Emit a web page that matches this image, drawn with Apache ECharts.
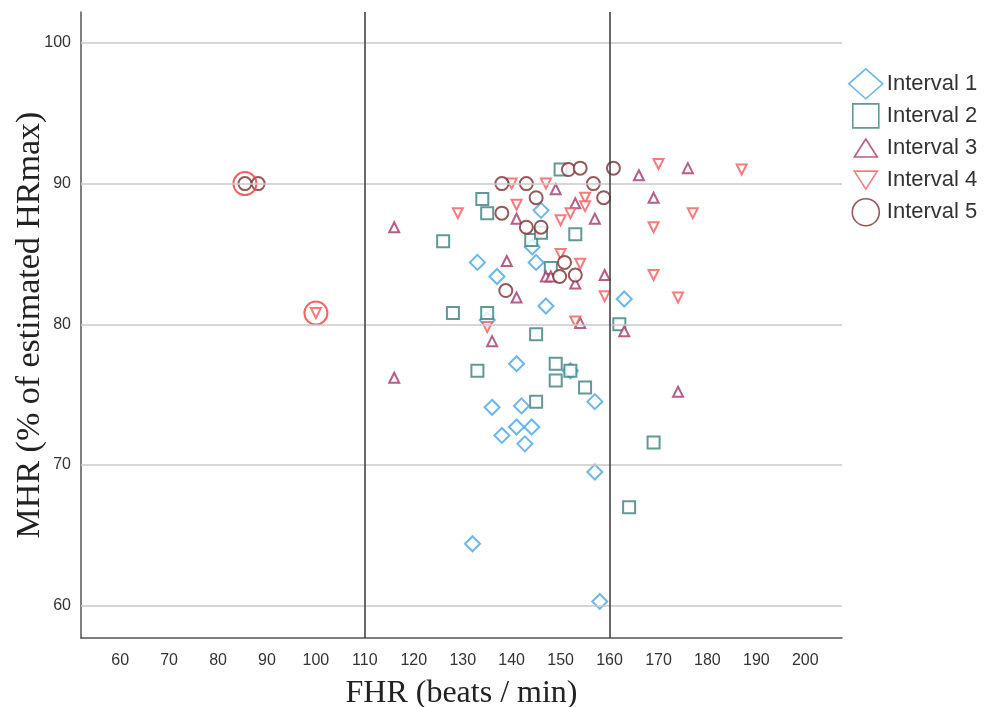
<!DOCTYPE html>
<html>
<head>
<meta charset="utf-8">
<script src="https://cdn.jsdelivr.net/npm/echarts@6/dist/echarts.min.js"></script>
<style>
  html, body { margin: 0; padding: 0; background: #fff; }
  #main { width: 984px; height: 707px; }
</style>
</head>
<body>
<div id="main"></div>
<script>
// [FHR, MHR] pairs
const interval1 = [
  [146, 88.1], [133, 84.4], [137, 83.4], [144.2, 85.5], [145, 84.4],
  [147, 81.3], [135, 80.3], [141, 77.2], [136, 74.1], [142, 74.2],
  [141, 72.7], [144.1, 72.7], [138, 72.1], [142.7, 71.5], [163, 81.8],
  [157, 74.5], [152, 76.7], [157, 69.5], [132, 64.4], [158, 60.3]
];
const interval2 = [
  [150, 91.0], [134, 88.9], [135, 87.9], [126, 85.9], [144, 86.0],
  [146, 86.5], [153, 86.4], [148, 84.0], [128, 80.8], [135, 80.8],
  [145, 79.3], [133, 76.7], [149, 77.2], [149, 76.0], [145, 74.5],
  [162, 80.0], [155, 75.5], [169, 71.6], [164, 67.0], [152, 76.7]
];
const interval3 = [
  [116, 86.9], [149, 89.6], [153, 88.6], [141, 87.5], [139, 84.5],
  [147, 83.4], [148, 83.4], [153, 82.9], [141, 81.9], [157, 87.5],
  [166, 90.6], [176, 91.1], [169, 89.0], [159, 83.5], [136, 78.8],
  [116, 76.2], [154, 80.1], [163, 79.5], [174, 75.2]
];
const interval4 = [
  [140, 90.0], [147, 90.0], [129, 87.9], [141, 88.5], [150, 87.4],
  [152, 87.9], [150, 85.0], [155, 89.0], [155, 88.4], [170, 91.4],
  [187, 91.0], [177, 87.9], [169, 86.9], [154, 84.3], [169, 83.5],
  [159, 82.0], [174, 81.9], [135, 79.8], [153, 80.2], [100, 80.8]
];
const interval5 = [
  [85.5, 90.0], [88.2, 90.0], [138, 90.0], [143, 90.0], [145, 89.0],
  [138, 87.9], [143, 86.9], [146, 86.9], [151.6, 91.0], [154, 91.1],
  [138.8, 82.4], [150.8, 84.4], [149.8, 83.4], [153, 83.5], [160.8, 91.1],
  [156.7, 90.0], [158.8, 89.0]
];
// outliers circled in red
const highlighted = [[85.5, 90.0], [100, 80.8]];

const xTicks = [60, 70, 80, 90, 100, 110, 120, 130, 140, 150, 160, 170, 180, 190, 200];
const yTicks = [60, 70, 80, 90, 100];
const cutoffs = [110, 160];

const colors = ['#45a5ea', '#3a7f7c', '#a4356c', '#f25a5c', '#7b2f31'];

// legend icons share one 34x30 frame so their sizes differ like the original
const frame = 'path://M0,0M34,30';
const legendIcons = [
  frame + 'M17,0L34,15L17,30L0,15Z',
  frame + 'M4,3L30,3L30,27L4,27Z',
  frame + 'M17,6L28.5,24L5.5,24Z',
  frame + 'M5.5,6L28.5,6L17,24Z',
  frame + 'M3.5,15A13.5,13.5 0 1 1 30.5,15A13.5,13.5 0 1 1 3.5,15Z'
];

const chart = echarts.init(document.getElementById('main'));

const labelFont = { fontFamily: 'Liberation Sans', fontSize: 16, color: '#333' };
const titleFont = { fontFamily: 'Liberation Serif', fontSize: 32, color: '#222' };

function intervalSeries(name, data, symbol, size, color, rotate) {
  return {
    name: name,
    type: 'scatter',
    data: data,
    symbol: symbol,
    symbolSize: size,
    symbolRotate: rotate || 0,
    z: 3,
    itemStyle: { color: color, borderWidth: 1.6 }
  };
}

function legendItem(i) {
  return {
    name: 'Interval ' + (i + 1),
    icon: legendIcons[i],
    itemStyle: { color: '#fff', borderColor: colors[i], borderWidth: 1.6 }
  };
}

const option = {
  animation: false,
  backgroundColor: '#fff',
  grid: { left: 81, right: 142, top: 12, bottom: 69, containLabel: false, outerBoundsMode: 'none' },
  legend: {
    data: [0, 1, 2, 3, 4].map(legendItem),
    orient: 'vertical',
    left: 848,
    top: 68,
    padding: 0,
    itemWidth: 34,
    itemHeight: 30,
    itemGap: 0.5,
    textStyle: { fontFamily: 'Liberation Sans', fontSize: 22, color: '#333', padding: [0, 0, 0, -1] }
  },
  xAxis: {
    type: 'value',
    min: 52,
    max: 207.5,
    name: 'FHR (beats / min)',
    nameLocation: 'middle',
    nameGap: 40,
    nameTextStyle: titleFont,
    axisLine: { lineStyle: { color: '#555', width: 1.5 } },
    axisTick: { show: false },
    splitLine: { show: false },
    axisLabel: Object.assign({ customValues: xTicks, margin: 15 }, labelFont)
  },
  yAxis: {
    type: 'value',
    min: 57.7,
    max: 102.2,
    name: 'MHR (% of estimated HRmax)',
    nameLocation: 'middle',
    nameGap: 34,
    nameMoveOverlap: false,
    nameTextStyle: Object.assign({}, titleFont, { fontSize: 34 }),
    axisLine: { show: true, lineStyle: { color: '#555', width: 1.5 } },
    axisTick: { show: false },
    splitLine: { show: false },
    axisLabel: Object.assign({ customValues: yTicks, margin: 10 }, labelFont)
  },
  series: [
    {
      type: 'scatter',
      data: [],
      z: 1,
      silent: true,
      markLine: {
        silent: true,
        symbol: ['none', 'none'],
        label: { show: false },
        animation: false,
        data: yTicks.map(v => ({ yAxis: v, lineStyle: { color: '#c9c9c9', width: 1.6, type: 'solid' } }))
          .concat(cutoffs.map(v => ({ xAxis: v, lineStyle: { color: '#444', width: 1.6, type: 'solid' } })))
      }
    },
    intervalSeries('Interval 1', interval1, 'emptyDiamond', 15, colors[0]),
    intervalSeries('Interval 2', interval2, 'emptyRect', 12, colors[1]),
    intervalSeries('Interval 3', interval3, 'emptyTriangle', 10, colors[2]),
    intervalSeries('Interval 4', interval4, 'emptyTriangle', 10, colors[3], 180),
    intervalSeries('Interval 5', interval5, 'emptyCircle', 13, colors[4]),
    {
      name: 'highlight',
      type: 'scatter',
      data: highlighted,
      symbol: 'circle',
      symbolSize: 23,
      z: 4,
      silent: true,
      itemStyle: { color: 'rgba(0,0,0,0)', borderColor: '#f53a3a', borderWidth: 2 }
    }
  ]
};

chart.setOption(option);
</script>
</body>
</html>
